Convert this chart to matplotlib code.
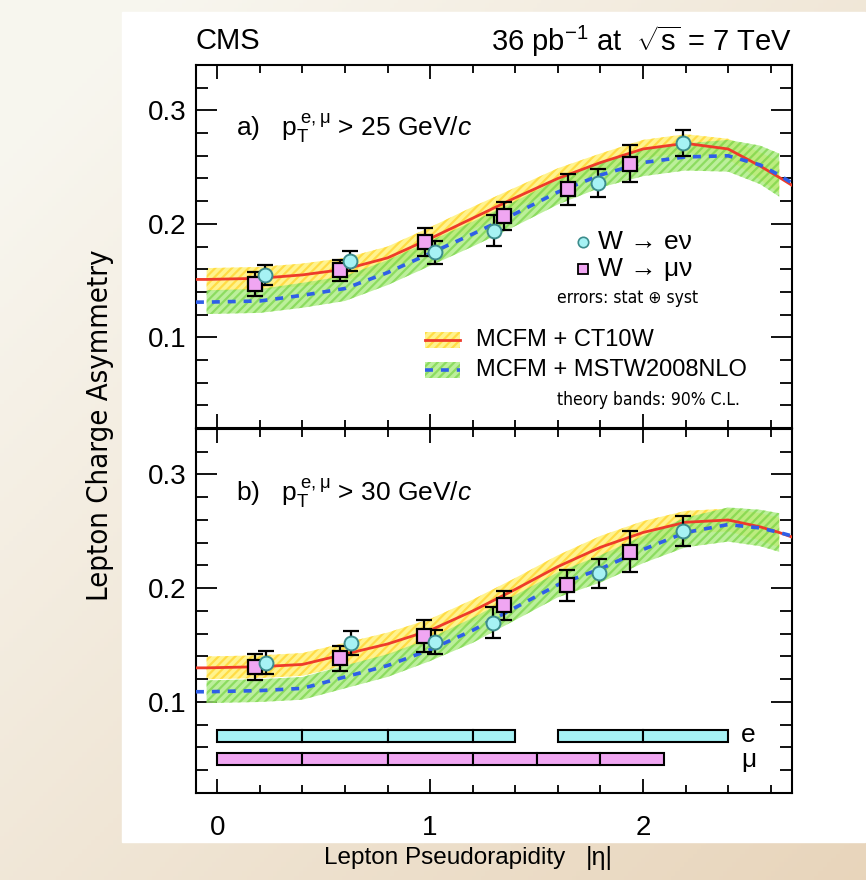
import numpy as np
import matplotlib
matplotlib.use('Agg')
import matplotlib.pyplot as plt
from matplotlib.patches import Rectangle

plt.rcParams['font.family'] = ['Liberation Sans', 'DejaVu Sans']
plt.rcParams['mathtext.fontset'] = 'custom'
plt.rcParams['mathtext.rm'] = 'Liberation Sans'
plt.rcParams['mathtext.it'] = 'Liberation Sans:italic'
plt.rcParams['mathtext.bf'] = 'Liberation Sans:bold'
plt.rcParams['hatch.linewidth'] = 1.6

# theory curves (grid in |eta|)
eta = [-0.1, -0.05, 0.2, 0.4, 0.6, 0.8, 1.0, 1.2, 1.4, 1.6, 1.8, 2.0, 2.2, 2.4, 2.55, 2.64, 2.7]

ct10_a = [0.151, 0.151, 0.152, 0.155, 0.160, 0.170, 0.187, 0.205, 0.223, 0.240, 0.254, 0.266, 0.271, 0.266, 0.251, 0.241, 0.234]
ct10_a_err = [0.010, 0.010, 0.010, 0.010, 0.010, 0.010, 0.010, 0.010, 0.009, 0.009, 0.008, 0.008, 0.008, 0.009, 0.012, 0.014, 0.014]
mstw_a = [0.131, 0.131, 0.132, 0.137, 0.143, 0.157, 0.174, 0.191, 0.209, 0.228, 0.243, 0.254, 0.259, 0.260, 0.252, 0.243, 0.236]
mstw_a_err = [0.0105, 0.0105, 0.0105, 0.011, 0.011, 0.011, 0.011, 0.011, 0.011, 0.011, 0.011, 0.012, 0.012, 0.014, 0.017, 0.019, 0.019]

ct10_b = [0.130, 0.130, 0.131, 0.133, 0.142, 0.151, 0.163, 0.180, 0.199, 0.219, 0.236, 0.249, 0.258, 0.260, 0.254, 0.249, 0.245]
ct10_b_err = [0.010, 0.010, 0.010, 0.010, 0.010, 0.010, 0.010, 0.010, 0.010, 0.010, 0.010, 0.010, 0.010, 0.010, 0.012, 0.013, 0.013]
mstw_b = [0.109, 0.109, 0.110, 0.112, 0.122, 0.132, 0.146, 0.163, 0.183, 0.203, 0.217, 0.234, 0.249, 0.256, 0.253, 0.249, 0.246]
mstw_b_err = [0.010, 0.010, 0.010, 0.010, 0.010, 0.010, 0.010, 0.011, 0.011, 0.011, 0.012, 0.012, 0.013, 0.015, 0.016, 0.017, 0.017]

# measurements, panel a (pT > 25) and panel b (pT > 30)
e_x_a = [0.225, 0.625, 1.025, 1.30, 1.79, 2.19]
e_y_a = [0.155, 0.167, 0.175, 0.194, 0.236, 0.271]
e_err_a = [0.0085, 0.009, 0.010, 0.0135, 0.012, 0.0115]
mu_x_a = [0.175, 0.575, 0.975, 1.345, 1.65, 1.94]
mu_y_a = [0.147, 0.159, 0.184, 0.207, 0.2305, 0.253]
mu_err_a = [0.0105, 0.009, 0.012, 0.012, 0.0138, 0.0165]

e_x_b = [0.23, 0.628, 1.023, 1.295, 1.795, 2.19]
e_y_b = [0.1345, 0.152, 0.1527, 0.1697, 0.213, 0.250]
e_err_b = [0.0103, 0.0107, 0.0107, 0.0135, 0.0129, 0.0132]
mu_x_b = [0.178, 0.577, 0.973, 1.345, 1.642, 1.94]
mu_y_b = [0.131, 0.1383, 0.158, 0.185, 0.2025, 0.232]
mu_err_b = [0.0114, 0.0113, 0.0144, 0.013, 0.0139, 0.018]

# binning bars
e_bins = [0.0, 0.4, 0.8, 1.2, 1.4, None, 1.6, 2.0, 2.4]
mu_bins = [0.0, 0.4, 0.8, 1.2, 1.5, 1.8, 2.1]

red = '#ee3b2a'
blue = '#2f5fe8'
cyan = '#a6f2f4'
violet = '#f0a6f2'

fig = plt.figure(figsize=(8.66, 8.80), dpi=100)

# slide background
bg = fig.add_axes([0, 0, 1, 1], zorder=-10)
gx, gy = np.meshgrid(np.linspace(0, 1, 200), np.linspace(0, 1, 200))
t = np.clip(0.55 * gx + 0.55 * gy - 0.1, 0, 1)[..., None]
c0 = np.array([0.972, 0.965, 0.937])
c1 = np.array([0.910, 0.835, 0.735])
bg.imshow(c0 * (1 - t) + c1 * t, extent=[0, 1, 0, 1], aspect='auto', origin='upper')
bg.add_patch(Rectangle((0.141, 0.043), 0.858, 0.943, color='white'))
bg.set_xlim(0, 1)
bg.set_ylim(0, 1)
bg.axis('off')

ax1 = fig.add_axes([0.2263, 0.5136, 0.6882, 0.4125])
ax2 = fig.add_axes([0.2263, 0.0989, 0.6882, 0.4136], sharex=ax1)


def draw_panel(ax, ct, ct_err, ms, ms_err, ex, ey, eerr, mx, my, merr):
    x = np.array(eta)
    ct = np.array(ct); ct_err = np.array(ct_err)
    ms = np.array(ms); ms_err = np.array(ms_err)
    b = slice(1, -1)
    ax.fill_between(x[b], (ct - ct_err)[b], (ct + ct_err)[b], facecolor='#fff27a',
                    edgecolor='#ffd93a', hatch='////', lw=0, alpha=0.85, zorder=1)
    ax.fill_between(x[b], (ms - ms_err)[b], (ms + ms_err)[b], facecolor='#a6ea7a',
                    edgecolor='#7dd64c', hatch='////', lw=0, alpha=0.75, zorder=2)
    ax.plot(x, ct, color=red, lw=2.0, zorder=3)
    ax.plot(x, ms, color=blue, lw=2.6, dashes=(2.2, 2.2), zorder=3)
    ax.errorbar(mx, my, yerr=merr, fmt='none', ecolor='k', elinewidth=1.6,
                capsize=6, capthick=1.6, zorder=4)
    ax.errorbar(ex, ey, yerr=eerr, fmt='none', ecolor='k', elinewidth=1.6,
                capsize=6, capthick=1.6, zorder=4)
    ax.plot(mx, my, 's', ms=10, mfc=violet, mec='k', mew=1.6, zorder=5, ls='none')
    ax.plot(ex, ey, 'o', ms=10, mfc=cyan, mec='#3c8c8c', mew=1.4, zorder=5, ls='none')

    ax.set_xlim(-0.1, 2.7)
    ax.set_ylim(0.02, 0.34)
    ax.set_xticks([0, 1, 2])
    ax.set_xticks(np.arange(0, 2.7, 0.2), minor=True)
    ax.set_yticks([0.1, 0.2, 0.3])
    ax.set_yticks(np.arange(0.04, 0.34, 0.02), minor=True)
    ax.tick_params(axis='both', which='both', direction='in', top=True, right=True, width=1.3)
    ax.tick_params(axis='x', which='major', length=10)
    ax.tick_params(axis='x', which='minor', length=6)
    ax.tick_params(axis='y', which='major', length=15)
    ax.tick_params(axis='y', which='minor', length=8.5)
    ax.tick_params(axis='y', labelsize=20, pad=7)
    ax.tick_params(axis='x', labelsize=20, pad=16)
    ax.set_yticklabels(['0.1', '0.2', '0.3'])
    for s in ax.spines.values():
        s.set_linewidth(1.5)


draw_panel(ax1, ct10_a, ct10_a_err, mstw_a, mstw_a_err,
           e_x_a, e_y_a, e_err_a, mu_x_a, mu_y_a, mu_err_a)
draw_panel(ax2, ct10_b, ct10_b_err, mstw_b, mstw_b_err,
           e_x_b, e_y_b, e_err_b, mu_x_b, mu_y_b, mu_err_b)
ax1.tick_params(labelbottom=False)

# binning bars
for i in range(len(e_bins) - 1):
    if e_bins[i] is None or e_bins[i + 1] is None:
        continue
    ax2.barh(0.07, e_bins[i + 1] - e_bins[i], left=e_bins[i], height=0.0105,
             color=cyan, edgecolor='k', lw=1.5, zorder=3)
for i in range(len(mu_bins) - 1):
    ax2.barh(0.05, mu_bins[i + 1] - mu_bins[i], left=mu_bins[i], height=0.0105,
             color=violet, edgecolor='k', lw=1.5, zorder=3)
ax2.text(2.46, 0.071, 'e', fontsize=19, va='center', ha='left')
ax2.text(2.46, 0.049, 'μ', fontsize=19, va='center', ha='left')

# panel labels
ax1.text(0.067, 0.826, r'a)   $\mathrm{p_{T}^{\;e,\mu}}$ > 25 GeV/$c$',
         transform=ax1.transAxes, fontsize=19, va='center')
ax2.text(0.067, 0.824, r'b)   $\mathrm{p_{T}^{\;e,\mu}}$ > 30 GeV/$c$',
         transform=ax2.transAxes, fontsize=19, va='center')

# legend (top panel)
tr = ax1.transAxes
ax1.plot([0.649], [0.512], 'o', ms=7.5, mfc=cyan, mec='#3c8c8c', mew=1.2, transform=tr)
ax1.text(0.674, 0.512, 'W → eν', fontsize=19, va='center', transform=tr)
ax1.plot([0.649], [0.438], 's', ms=7.5, mfc=violet, mec='k', mew=1.3, transform=tr)
ax1.text(0.674, 0.438, 'W → μν', fontsize=19, va='center', transform=tr)
ax1.text(0.606, 0.358, 'errors: stat ⊕ syst', fontsize=12.5, va='center', transform=tr,
         family=['DejaVu Sans'], fontstretch='condensed')

ax1.add_patch(Rectangle((0.384, 0.220), 0.059, 0.044, transform=tr, facecolor='#fff27a',
                        edgecolor='#ffd93a', hatch='////', lw=0, alpha=0.85))
ax1.plot([0.384, 0.443], [0.242, 0.242], color=red, lw=2.0, transform=tr)
ax1.text(0.47, 0.242, 'MCFM + CT10W', fontsize=17, va='center', transform=tr)
ax1.add_patch(Rectangle((0.384, 0.138), 0.059, 0.044, transform=tr, facecolor='#a6ea7a',
                        edgecolor='#7dd64c', hatch='////', lw=0, alpha=0.75))
ax1.plot([0.384, 0.443], [0.160, 0.160], color=blue, lw=2.6, dashes=(2.2, 2.2), transform=tr)
ax1.text(0.47, 0.160, 'MCFM + MSTW2008NLO', fontsize=17, va='center', transform=tr)
ax1.text(0.606, 0.077, 'theory bands: 90% C.L.', fontsize=12.5, va='center', transform=tr,
         family=['DejaVu Sans'], fontstretch='condensed')

# header
fig.text(0.2263, 0.953, 'CMS', fontsize=21, va='center', ha='left')
fig.text(0.9145, 0.953, r'36 pb$^{-1}$ at  $\sqrt{\mathrm{s}}$ = 7 TeV', fontsize=21,
         va='center', ha='right')

# axis labels
fig.text(0.115, 0.517, 'Lepton Charge Asymmetry', rotation=90, fontsize=21,
         va='center', ha='center', family=['DejaVu Sans'], fontstretch='condensed')
fig.text(0.514, 0.025, 'Lepton Pseudorapidity', fontsize=17.5, va='center', ha='center')
fig.text(0.692, 0.025, '|η|', fontsize=18, va='center', ha='center')

fig.savefig('out.png', dpi=100)
